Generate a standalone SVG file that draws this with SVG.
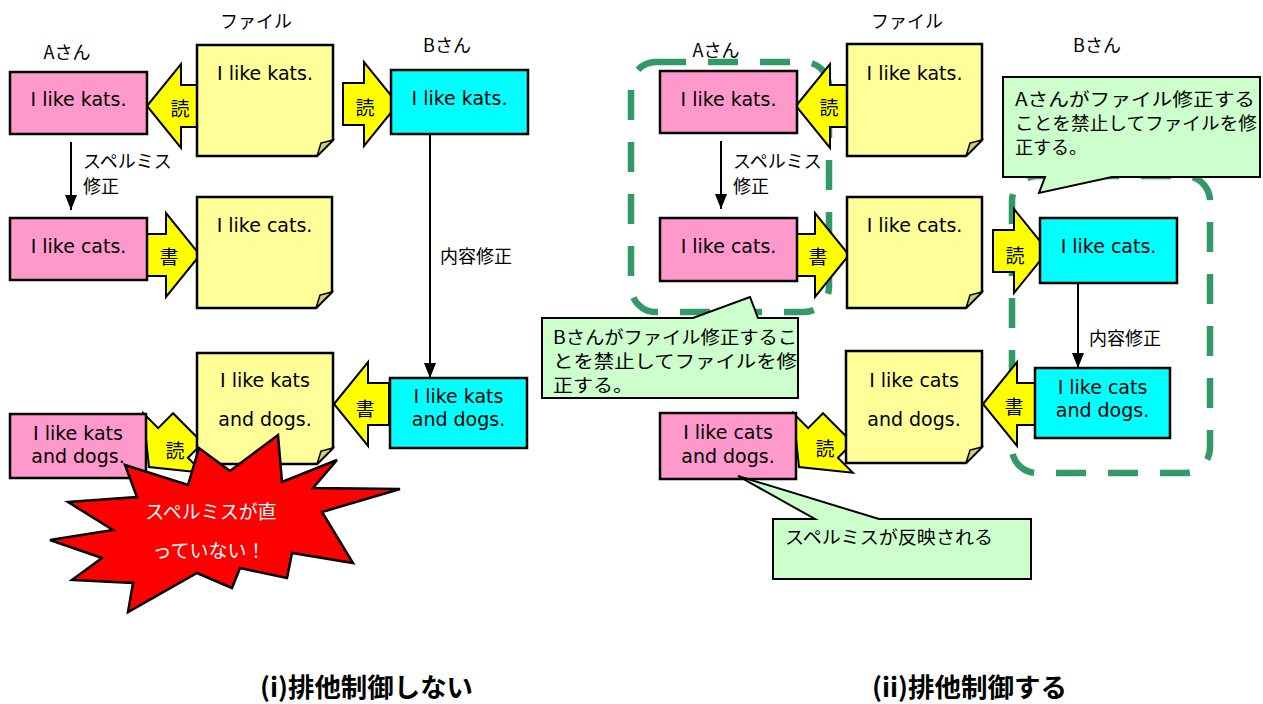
<svg xmlns="http://www.w3.org/2000/svg" xmlns:xlink="http://www.w3.org/1999/xlink" width="1263" height="704" viewBox="0 0 1263 704">
<style>
.pink{fill:#FF99CC;stroke:#000;stroke-width:2.5}
.cyan{fill:#00FFFF;stroke:#000;stroke-width:2.5}
.note{fill:#FFFF99;stroke:#000;stroke-width:2.5;stroke-linejoin:miter}
.fold{fill:#CCCC7A;stroke:#000;stroke-width:1.5}
.arr{fill:#FFFF00;stroke:#000;stroke-width:2}
.call{fill:#CCFFCC;stroke:#000;stroke-width:2}
.dash{fill:none;stroke:#339966;stroke-width:6.5;stroke-dasharray:30 22}
.line{stroke:#000;stroke-width:2;fill:none}
.en{font-family:"DejaVu Sans",Verdana,sans-serif;font-size:19px;text-anchor:middle;fill:#000}
.jp{font-family:"Noto Sans CJK JP",sans-serif;font-size:18px;fill:#000}
.jpc{font-family:"Noto Sans CJK JP",sans-serif;font-size:18px;fill:#000;text-anchor:middle}
.ak{font-family:"Noto Sans CJK JP",sans-serif;font-size:19px;fill:#000;text-anchor:middle}
.ct{font-family:"Noto Sans CJK JP",sans-serif;font-size:18px;fill:#000}
.star{fill:#FF0000;stroke:#000;stroke-width:2.5;stroke-linejoin:miter}
.st{font-family:"Noto Sans CJK JP",sans-serif;font-size:19px;fill:#FFF;text-anchor:middle}
.title{font-family:"Noto Sans CJK JP",sans-serif;font-size:26px;font-weight:bold;fill:#000}
</style>
<defs>
<path id="blk" d="M0,0 L34,-42 L34,-21 L55,-21 L55,21 L34,21 L34,42 Z"/>
<marker id="ah" markerUnits="userSpaceOnUse" markerWidth="16" markerHeight="12" refX="15" refY="6" orient="auto" viewBox="0 0 16 12">
<path d="M0,0 L15,6 L0,12 Z" fill="#000"/>
</marker>
</defs>

<!-- dashed groupings (right) -->
<g id="lockA"><rect class="dash" x="631" y="62" width="198" height="250" rx="25"/></g>
<g id="lockB"><rect class="dash" x="1012" y="176" width="198" height="297" rx="25"/></g>

<!-- connectors -->
<g id="connectors">
<line class="line" x1="71" y1="142" x2="71" y2="210" marker-end="url(#ah)"/>
<line class="line" x1="430" y1="135" x2="430" y2="378" marker-end="url(#ah)"/>
<line class="line" x1="721" y1="141" x2="721" y2="209" marker-end="url(#ah)"/>
<line class="line" x1="1078" y1="283" x2="1078" y2="368" marker-end="url(#ah)"/>
</g>

<!-- labels -->
<g id="labels">
<text class="jpc" x="256" y="28">ファイル</text>
<text class="jpc" x="67" y="59">Aさん</text>
<text class="jpc" x="447" y="52">Bさん</text>
<text class="jp" x="83" y="168">スペルミス</text>
<text class="jp" x="83" y="193">修正</text>
<text class="jp" x="440" y="263">内容修正</text>
<text class="jpc" x="907" y="28">ファイル</text>
<text class="jpc" x="716" y="57">Aさん</text>
<text class="jpc" x="1097" y="52">Bさん</text>
<text class="jp" x="733" y="168">スペルミス</text>
<text class="jp" x="733" y="193">修正</text>
<text class="jp" x="1089" y="345">内容修正</text>
</g>

<!-- LEFT PANEL -->
<g id="l_readA1"><use xlink:href="#blk" class="arr" transform="translate(147,106)"/><text class="ak" x="180" y="116">読</text></g>
<g id="l_readB1"><use xlink:href="#blk" class="arr" transform="translate(398,104) rotate(180)"/><text class="ak" x="365" y="115">読</text></g>
<g id="l_writeA2"><use xlink:href="#blk" class="arr" transform="translate(200,255) rotate(180)"/><text class="ak" x="169" y="264">書</text></g>
<g id="l_writeB2"><use xlink:href="#blk" class="arr" transform="translate(334,404)"/><text class="ak" x="365" y="416">書</text></g>
<g id="l_readA3"><use xlink:href="#blk" class="arr" transform="translate(149,467) rotate(-45)"/><text class="ak" x="175" y="458">読</text></g>

<g id="l_A1"><rect class="pink" x="10" y="72" width="137" height="62"/><text class="en" x="78.5" y="106">I like kats.</text></g>
<g id="l_F1"><path class="note" d="M197,45 H333 V140 L317,156 H197 Z"/><path class="fold" d="M317,156 L333,140 L321,143 Z"/><text class="en" x="265" y="80">I like kats.</text></g>
<g id="l_B1"><rect class="cyan" x="391" y="70" width="137" height="64"/><text class="en" x="459.5" y="105">I like kats.</text></g>
<g id="l_A2"><rect class="pink" x="10" y="218" width="137" height="62"/><text class="en" x="78.5" y="253">I like cats.</text></g>
<g id="l_F2"><path class="note" d="M197,197 H332 V292 L316,308 H197 Z"/><path class="fold" d="M316,308 L332,292 L320,295 Z"/><text class="en" x="264.5" y="232">I like cats.</text></g>
<g id="l_F3"><path class="note" d="M197,353 H333 V448 L317,464 H197 Z"/><path class="fold" d="M317,464 L333,448 L321,451 Z"/><text class="en" x="265" y="387">I like kats</text><text class="en" x="265" y="426">and dogs.</text></g>
<g id="l_B2"><rect class="cyan" x="390" y="378" width="137" height="70"/><text class="en" x="458.5" y="403">I like kats</text><text class="en" x="458.5" y="426">and dogs.</text></g>
<g id="l_A3"><rect class="pink" x="10" y="414" width="136" height="64"/><text class="en" x="78" y="440">I like kats</text><text class="en" x="78" y="463">and dogs.</text></g>

<g id="l_star">
<polygon class="star" points="125,465 188,485 199,448 230,471 278,435 282,482 337,460 313,488 400,489 322,512 353,563 292,553 287,578 240,568 232,588 197,573 128,612 133,583 72,580 102,558 50,540 113,530 68,502 137,497"/>
<text class="st" x="211" y="519">スペルミスが直</text>
<text class="st" x="209" y="558">っていない！</text>
</g>

<!-- RIGHT PANEL -->
<g id="r_readA1"><use xlink:href="#blk" class="arr" transform="translate(796,106)"/><text class="ak" x="829" y="115">読</text></g>
<g id="r_writeA2"><use xlink:href="#blk" class="arr" transform="translate(849,255) rotate(180)"/><text class="ak" x="818" y="264">書</text></g>
<g id="r_readB1"><use xlink:href="#blk" class="arr" transform="translate(1048,251) rotate(180)"/><text class="ak" x="1015" y="263">読</text></g>
<g id="r_writeB2"><use xlink:href="#blk" class="arr" transform="translate(983,404)"/><text class="ak" x="1014" y="414">書</text></g>
<g id="r_readA3"><use xlink:href="#blk" class="arr" transform="translate(799,467) rotate(-45)"/><text class="ak" x="825" y="456">読</text></g>

<g id="r_A1"><rect class="pink" x="660" y="71" width="137" height="62"/><text class="en" x="728.5" y="106">I like kats.</text></g>
<g id="r_F1"><path class="note" d="M847,44 H982 V140 L966,156 H847 Z"/><path class="fold" d="M966,156 L982,140 L970,143 Z"/><text class="en" x="914.5" y="80">I like kats.</text></g>
<g id="r_A2"><rect class="pink" x="660" y="218" width="137" height="63"/><text class="en" x="728.5" y="253">I like cats.</text></g>
<g id="r_F2"><path class="note" d="M847,197 H982 V292 L966,308 H847 Z"/><path class="fold" d="M966,308 L982,292 L970,295 Z"/><text class="en" x="914.5" y="232">I like cats.</text></g>
<g id="r_B1"><rect class="cyan" x="1040" y="218" width="137" height="65"/><text class="en" x="1108.5" y="253">I like cats.</text></g>
<g id="r_F3"><path class="note" d="M846,351 H982 V447 L966,463 H846 Z"/><path class="fold" d="M966,463 L982,447 L970,450 Z"/><text class="en" x="914" y="387">I like cats</text><text class="en" x="914" y="426">and dogs.</text></g>
<g id="r_B2"><rect class="cyan" x="1035" y="368" width="135" height="70"/><text class="en" x="1102.5" y="394">I like cats</text><text class="en" x="1102.5" y="417">and dogs.</text></g>
<g id="r_A3"><rect class="pink" x="660" y="413" width="136" height="66"/><text class="en" x="728" y="439">I like cats</text><text class="en" x="728" y="463">and dogs.</text></g>

<!-- callouts -->
<g id="calloutA">
<path class="call" d="M1003,77 H1260 V177 H1112 L1039,193 L1045,177 H1003 Z"/>
<text class="ct" x="1015" y="106" textLength="240" lengthAdjust="spacingAndGlyphs">Aさんがファイル修正する</text>
<text class="ct" x="1015" y="130" textLength="242" lengthAdjust="spacingAndGlyphs">ことを禁止してファイルを修</text>
<text class="ct" x="1015" y="154" textLength="72" lengthAdjust="spacingAndGlyphs">正する。</text>
</g>
<g id="calloutB">
<path class="call" d="M542,318 H693 L750,297 L758,318 H798 V398 H542 Z"/>
<text class="ct" x="553" y="344" textLength="244" lengthAdjust="spacingAndGlyphs">Bさんがファイル修正するこ</text>
<text class="ct" x="553" y="368" textLength="244" lengthAdjust="spacingAndGlyphs">とを禁止してファイルを修</text>
<text class="ct" x="553" y="392" textLength="80" lengthAdjust="spacingAndGlyphs">正する。</text>
</g>
<g id="calloutC">
<path class="call" d="M773,519 H815 L738,476 L879,519 H1031 V579 H773 Z"/>
<text class="ct" x="785" y="544" textLength="208" lengthAdjust="spacingAndGlyphs">スペルミスが反映される</text>
</g>

<!-- titles -->
<g id="titles">
<text class="title" x="260" y="697" textLength="213" lengthAdjust="spacingAndGlyphs">(i)排他制御しない</text>
<text class="title" x="872" y="697" textLength="195" lengthAdjust="spacingAndGlyphs">(ii)排他制御する</text>
</g>
</svg>
